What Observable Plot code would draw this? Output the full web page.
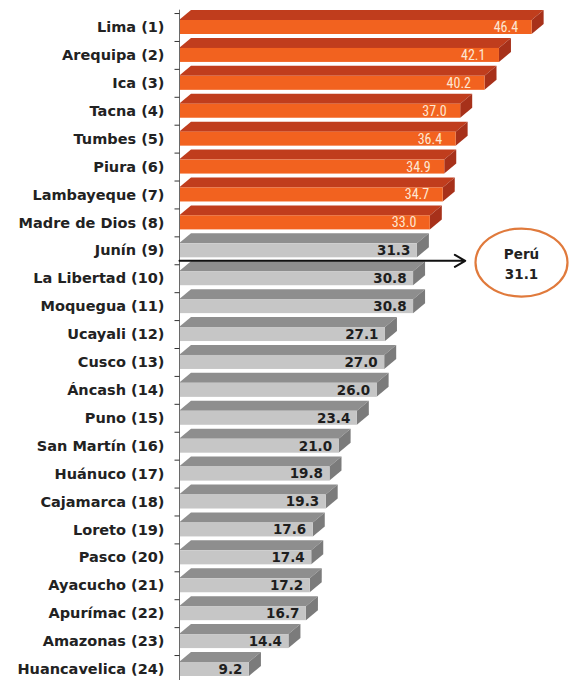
<!DOCTYPE html>
<html><head><meta charset="utf-8">
<script src="https://cdn.jsdelivr.net/npm/d3@7"></script>
<script src="https://cdn.jsdelivr.net/npm/@observablehq/plot@0.6"></script>
<style>body{margin:0;background:#fff}</style></head>
<body><div id="chart"></div>
<script>
const regions = ["Lima","Arequipa","Ica","Tacna","Tumbes","Piura","Lambayeque","Madre de Dios","Junín","La Libertad","Moquegua","Ucayali","Cusco","Áncash","Puno","San Martín","Huánuco","Cajamarca","Loreto","Pasco","Ayacucho","Apurímac","Amazonas","Huancavelica"];
const ranks = [1,2,3,4,5,6,7,8,9,10,11,12,13,14,15,16,17,18,19,20,21,22,23,24];
const values = [46.4,42.1,40.2,37.0,36.4,34.9,34.7,33.0,31.3,30.8,30.8,27.1,27.0,26.0,23.4,21.0,19.8,19.3,17.6,17.4,17.2,16.7,14.4,9.2];
const highlightCount = 8;
const peruLabel = "Perú";
const peruValue = 31.1;

// pixel -> data conversions for 3D depth (x: [0,50]->[179,559], y: [0,23]->[27,669])
const X_PER_PX = 50 / 380, Y_PER_PX = 23 / 642;
const depthX = 12 * X_PER_PX, depthY = 10 * Y_PER_PX, halfFront = 7 * Y_PER_PX;

const rows = regions.map((r, i) => ({i, label: `${r} (${ranks[i]})`, value: values[i], hi: i < highlightCount}));
const topFace = rows.flatMap(d => [
  {z: d.i, hi: d.hi, y: d.i - halfFront, x1: 0, x2: d.value},
  {z: d.i, hi: d.hi, y: d.i - halfFront - depthY, x1: depthX, x2: d.value + depthX}
]);
const sideFace = rows.flatMap(d => [
  {z: d.i, hi: d.hi, x: d.value, y1: d.i - halfFront, y2: d.i + halfFront},
  {z: d.i, hi: d.hi, x: d.value + depthX, y1: d.i - halfFront - depthY, y2: d.i + halfFront - depthY}
]);
const pal = {
  hi: {front: "#f2621f", top: "#c03d1d", side: "#a7311a", text: "#fde6d2"},
  lo: {front: "#c6c6c6", top: "#8e8e8e", side: "#7b7b7b", text: "#1e1e1e"}
};
const faces = [];
for (const key of ["hi", "lo"]) {
  const f = d => (key === "hi") === d.hi;
  faces.push(
    Plot.areaX(topFace, {filter: f, y: "y", x1: "x1", x2: "x2", z: "z", fill: pal[key].top}),
    Plot.areaY(sideFace, {filter: f, x: "x", y1: "y1", y2: "y2", z: "z", fill: pal[key].side}),
    Plot.rect(rows, {filter: f, x1: 0, x2: "value", y1: d => d.i - halfFront, y2: d => d.i + halfFront, fill: pal[key].front})
  );
}
const ellipse = {draw(ctx) {
  const rx = 46, ry = 34, k = 0.5523;
  ctx.moveTo(rx, 0);
  ctx.bezierCurveTo(rx, ry * k, rx * k, ry, 0, ry);
  ctx.bezierCurveTo(-rx * k, ry, -rx, ry * k, -rx, 0);
  ctx.bezierCurveTo(-rx, -ry * k, -rx * k, -ry, 0, -ry);
  ctx.bezierCurveTo(rx * k, -ry, rx, -ry * k, rx, 0);
  ctx.closePath();
}};
const peruRow = 8.36;
const plot = Plot.plot({
  width: 569,
  height: 680,
  x: {domain: [0, 50], range: [179, 559], axis: null},
  y: {domain: [0, 23], range: [27, 669], axis: null},
  style: {background: "#fff", overflow: "visible"},
  marks: [
    ...faces,
    Plot.ruleX([0], {y1: -0.62, y2: 23.4, stroke: "#6a6a6a", strokeWidth: 1}),
    Plot.link(rows, {x1: -5 * X_PER_PX, x2: 0, y1: d => d.i - 0.5, y2: d => d.i - 0.5, stroke: "#333", strokeWidth: 1}),
    Plot.text(rows, {x: 0, y: "i", text: "label", textAnchor: "end", dx: -15, fontSize: 14.5, fontWeight: "bold", fontFamily: "DejaVu Sans", fill: "#222"}),
    Plot.text(rows, {filter: d => d.hi, x: "value", y: "i", text: d => d.value.toFixed(1), textAnchor: "end", dx: -14, fontSize: 14, fontFamily: "Liberation Sans Narrow, Roboto Condensed, sans-serif", fill: pal.hi.text}),
    Plot.text(rows, {filter: d => !d.hi, x: "value", y: "i", text: d => d.value.toFixed(1), textAnchor: "end", dx: -7, fontSize: 13.5, fontWeight: "bold", fontFamily: "DejaVu Sans", fill: pal.lo.text}),
    Plot.arrow([peruValue], {x1: 0, x2: 37.6, y1: peruRow, y2: peruRow, stroke: "#111", strokeWidth: 2, headLength: 9}),
    Plot.dot([peruValue], {x: 45, y: 8.42, symbol: ellipse, stroke: "#e07a3c", strokeWidth: 2.2, fill: "#fff"}),
    Plot.text([peruValue], {x: 45, y: 8.42, text: d => `${peruLabel}\n${d.toFixed(1)}`, lineHeight: 1.5, fontSize: 13.5, fontWeight: "bold", fontFamily: "DejaVu Sans", fill: "#222"})
  ]
});
document.getElementById("chart").appendChild(plot);
</script>
</body></html>
